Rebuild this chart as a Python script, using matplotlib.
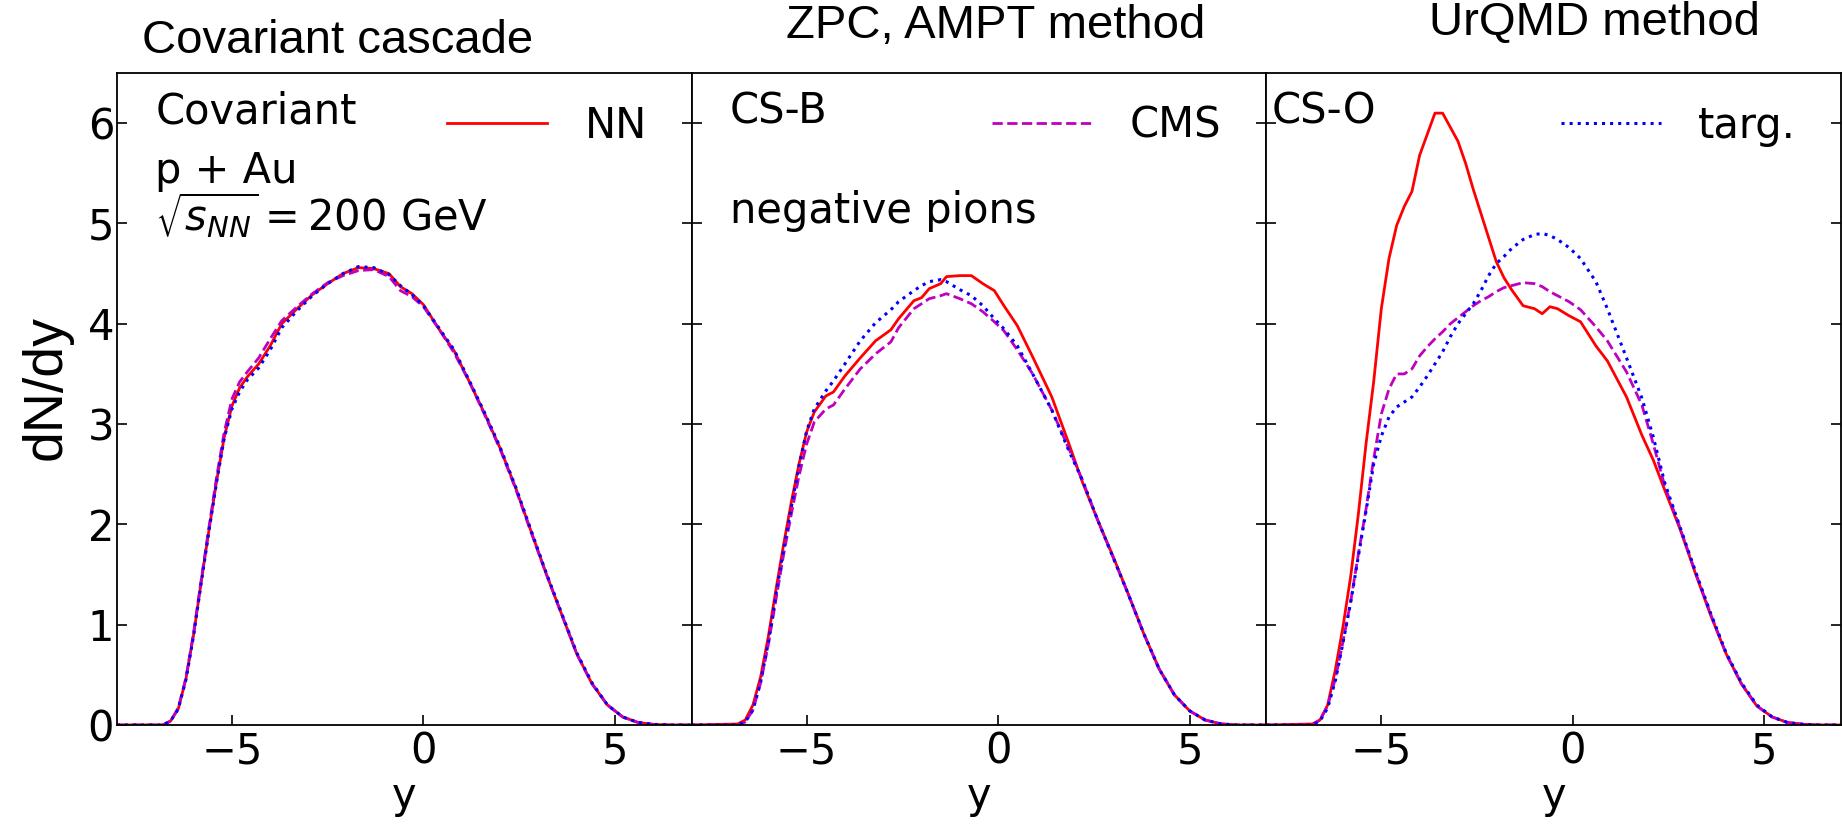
import matplotlib
matplotlib.use("Agg")
import matplotlib.pyplot as plt

# dN/dy of negative pions, p+Au at 200 GeV, three collision schemes per panel
p1_x = [-8, -6.8, -6.6, -6.4, -6.2, -6.0, -5.8, -5.6, -5.4, -5.2, -5.0, -4.8, -4.6, -4.3, -4.0, -3.7, -3.3,
        -2.9, -2.5, -2.1, -1.7, -1.3, -0.9, -0.6, -0.3, 0.0, 0.4, 0.8, 1.2, 1.6, 2.0, 2.4, 2.8, 3.2, 3.6,
        4.0, 4.4, 4.8, 5.2, 5.6, 6.0, 6.4, 7.0]
p1_nn = [0, 0.0, 0.04, 0.16, 0.46, 0.9, 1.43, 1.94, 2.43, 2.87, 3.18, 3.36, 3.47, 3.60, 3.78, 4.0, 4.15,
         4.29, 4.40, 4.50, 4.56, 4.55, 4.50, 4.37, 4.30, 4.19, 3.95, 3.73, 3.42, 3.10, 2.76, 2.37, 1.94, 1.51, 1.11,
         0.71, 0.41, 0.20, 0.08, 0.025, 0.006, 0.0, 0.0]
p1_cms = [0, 0.0, 0.04, 0.17, 0.47, 0.92, 1.45, 1.97, 2.47, 2.92, 3.25, 3.42, 3.52, 3.66, 3.85, 4.03, 4.17,
          4.30, 4.41, 4.48, 4.53, 4.54, 4.47, 4.33, 4.27, 4.17, 3.95, 3.71, 3.42, 3.09, 2.75, 2.36, 1.93, 1.51, 1.11,
          0.71, 0.41, 0.20, 0.08, 0.025, 0.006, 0.0, 0.0]
p1_targ = [0, 0.0, 0.04, 0.16, 0.45, 0.89, 1.42, 1.93, 2.42, 2.86, 3.15, 3.32, 3.44, 3.56, 3.74, 3.96, 4.13,
           4.28, 4.40, 4.50, 4.57, 4.56, 4.49, 4.38, 4.29, 4.18, 3.96, 3.74, 3.43, 3.11, 2.77, 2.38, 1.95, 1.52, 1.12,
           0.72, 0.42, 0.20, 0.08, 0.025, 0.006, 0.0, 0.0]

p2_x = [-8, -6.8, -6.6, -6.4, -6.2, -6.0, -5.8, -5.6, -5.4, -5.2, -5.0, -4.8, -4.5, -4.3, -4.0, -3.6, -3.2,
        -2.8, -2.6, -2.2, -2.0, -1.8, -1.5, -1.35, -1.0, -0.7, -0.4, -0.1, 0.15, 0.5, 0.9, 1.4, 1.85, 2.2, 2.6,
        3.0, 3.4, 3.8, 4.2, 4.6, 5.0, 5.4, 5.8, 6.2, 7.0]
p2_nn = [0, 0.01, 0.05, 0.2, 0.48, 0.88, 1.35, 1.8, 2.22, 2.6, 2.92, 3.12, 3.28, 3.32, 3.48, 3.66, 3.83,
         3.94, 4.05, 4.23, 4.26, 4.35, 4.40, 4.47, 4.48, 4.48, 4.40, 4.33, 4.18, 3.98, 3.67, 3.27, 2.80, 2.42, 2.04,
         1.68, 1.30, 0.91, 0.56, 0.30, 0.14, 0.05, 0.012, 0.0, 0.0]
p2_cms = [0, 0.0, 0.03, 0.15, 0.42, 0.8, 1.25, 1.7, 2.1, 2.48, 2.8, 3.02, 3.15, 3.19, 3.35, 3.55, 3.7,
          3.82, 3.96, 4.15, 4.2, 4.25, 4.28, 4.30, 4.25, 4.20, 4.12, 4.02, 3.93, 3.74, 3.50, 3.14, 2.75, 2.44, 2.04,
          1.67, 1.30, 0.91, 0.56, 0.30, 0.14, 0.05, 0.012, 0.0, 0.0]
p2_targ = [0, 0.0, 0.03, 0.15, 0.43, 0.82, 1.3, 1.75, 2.17, 2.58, 2.93, 3.15, 3.33, 3.43, 3.60, 3.83, 4.01,
           4.14, 4.22, 4.33, 4.38, 4.42, 4.44, 4.42, 4.34, 4.28, 4.18, 4.05, 3.95, 3.78, 3.50, 3.14, 2.73, 2.44, 2.04,
           1.67, 1.30, 0.91, 0.56, 0.30, 0.14, 0.05, 0.012, 0.0, 0.0]

p3_x = [-8, -6.8, -6.6, -6.4, -6.2, -6.0, -5.8, -5.6, -5.4, -5.2, -5.0, -4.8, -4.6, -4.4, -4.2, -4.0, -3.8,
        -3.6, -3.4, -3.2, -3.0, -2.8, -2.6, -2.4, -2.2, -2.0, -1.8, -1.6, -1.3, -1.0, -0.8, -0.6, -0.4, -0.1,
        0.2, 0.6, 0.9, 1.4, 1.8, 2.1, 2.4, 2.8, 3.2, 3.6, 4.0, 4.4, 4.8, 5.2, 5.6, 6.0, 6.4, 7.0]
p3_nn = [0, 0.01, 0.05, 0.2, 0.55, 0.98, 1.48, 2.1, 2.8, 3.42, 4.15, 4.65, 4.98, 5.17, 5.32, 5.68, 5.89,
         6.1, 6.1, 5.96, 5.82, 5.6, 5.34, 5.1, 4.86, 4.62, 4.46, 4.34, 4.18, 4.15, 4.10, 4.17, 4.15, 4.08,
         4.02, 3.78, 3.63, 3.27, 2.89, 2.64, 2.34, 1.95, 1.51, 1.09, 0.71, 0.41, 0.19, 0.08, 0.025, 0.007, 0.0, 0.0]
p3_cms = [0, 0.0, 0.05, 0.19, 0.46, 0.83, 1.23, 1.7, 2.15, 2.65, 3.1, 3.35, 3.5, 3.5, 3.55, 3.68, 3.77,
          3.85, 3.92, 4.0, 4.06, 4.12, 4.18, 4.23, 4.27, 4.32, 4.36, 4.38, 4.41, 4.40, 4.37, 4.32, 4.28, 4.22,
          4.14, 3.97, 3.83, 3.52, 3.19, 2.80, 2.38, 1.96, 1.52, 1.10, 0.71, 0.41, 0.19, 0.08, 0.025, 0.007, 0.0, 0.0]
p3_targ = [0, 0.0, 0.04, 0.17, 0.44, 0.82, 1.22, 1.68, 2.13, 2.6, 2.88, 3.07, 3.17, 3.22, 3.27, 3.37, 3.48,
           3.6, 3.72, 3.87, 4.0, 4.1, 4.2, 4.33, 4.48, 4.6, 4.67, 4.75, 4.84, 4.89, 4.9, 4.88, 4.84, 4.76,
           4.65, 4.42, 4.15, 3.66, 3.26, 2.87, 2.41, 1.97, 1.53, 1.11, 0.72, 0.42, 0.20, 0.08, 0.025, 0.007, 0.0, 0.0]

titles = ["Covariant cascade", "ZPC, AMPT method", "UrQMD method"]
scheme_labels = ["Covariant", "CS-B", "CS-O"]
legend_labels = ["NN", "CMS", "targ."]

plt.rcParams["font.family"] = "DejaVu Sans"
plt.rcParams["font.size"] = 30
plt.rcParams["mathtext.fontset"] = "dejavusans"

fig, axes = plt.subplots(1, 3, figsize=(18.42, 8.26), dpi=100, sharey=True)
fig.subplots_adjust(left=0.0635, right=0.9995, top=0.9116, bottom=0.1223, wspace=0)

panels = [(p1_x, p1_nn, p1_cms, p1_targ),
          (p2_x, p2_nn, p2_cms, p2_targ),
          (p3_x, p3_nn, p3_cms, p3_targ)]

for i, ax in enumerate(axes):
    x, nn, cms, targ = panels[i]
    l_nn, = ax.plot(x, nn, "r-", lw=2.0, label=legend_labels[0])
    l_cms, = ax.plot(x, cms, "m--", lw=2.0, label=legend_labels[1])
    l_targ, = ax.plot(x, targ, "b:", lw=2.2, label=legend_labels[2])
    ax.set_xlim(-8, 7)
    ax.set_ylim(0, 6.5)
    ax.set_xticks([-5, 0, 5])
    ax.set_yticks([0, 1, 2, 3, 4, 5, 6])
    ax.tick_params(direction="in", right=True, top=False, length=7, width=1.2, pad=4)
    ax.tick_params(axis="y", pad=2)
    for s in ax.spines.values():
        s.set_linewidth(1.3)
    ax.set_xlabel("y", labelpad=2)
    # one legend entry per panel, as in the original
    ax.legend(handles=[[l_nn, l_cms, l_targ][i]], loc="center right",
              bbox_to_anchor=(1 - 45 / 576, 0.919), frameon=False, borderpad=0,
              borderaxespad=0, handlelength=2.4, handletextpad=0.9)
    ax.text(-7.0 if i < 2 else -7.85, 6.0, scheme_labels[i])

axes[0].text(-7.0, 5.4, "p + Au")
axes[0].text(-7.0, 4.92, r"$\sqrt{s_{NN}} = 200$ GeV")
axes[1].text(-7.0, 5.0, "negative pions")

title_pos = [(338, 41), (996, 26), (1594, 23)]
for t, (px, py) in zip(titles, title_pos):
    fig.text(px / 1842, 1 - py / 826, t, ha="center", va="center",
             family=["Liberation Sans", "DejaVu Sans"], fontsize=34)

fig.text(47 / 1842, 1 - 388 / 826, "dN/dy", rotation=90, ha="center", va="center",
         family=["Liberation Sans", "DejaVu Sans"], fontsize=40)

fig.savefig("out.png", dpi=100)
